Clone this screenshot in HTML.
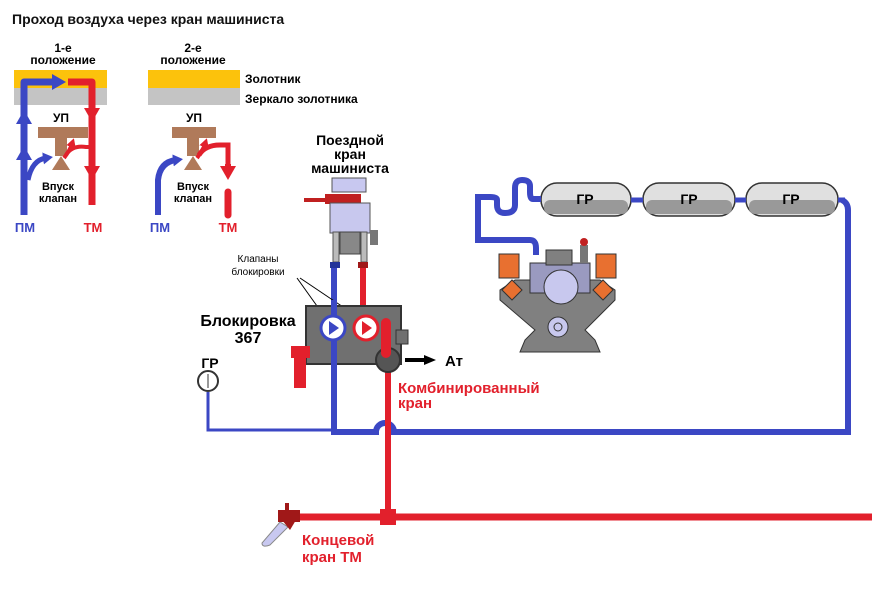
<!DOCTYPE html>
<html><head><meta charset="utf-8"><style>
html,body{margin:0;padding:0;background:#fff;}
svg{display:block;font-family:"Liberation Sans","DejaVu Sans",sans-serif;}
</style></head><body>
<svg width="889" height="599" viewBox="0 0 889 599" xmlns="http://www.w3.org/2000/svg">
<defs>
<marker id="ab" markerWidth="14" markerHeight="16" refX="4" refY="8" orient="auto" markerUnits="userSpaceOnUse"><path d="M0,0 L14,8 L0,16 z" fill="#3b47c4"/></marker>
<marker id="ar" markerWidth="14" markerHeight="16" refX="4" refY="8" orient="auto" markerUnits="userSpaceOnUse"><path d="M0,0 L14,8 L0,16 z" fill="#e2202c"/></marker>
<marker id="ars" markerWidth="9" markerHeight="10" refX="3" refY="5" orient="auto" markerUnits="userSpaceOnUse"><path d="M0,0 L9,5 L0,10 z" fill="#e2202c"/></marker>
<marker id="abs" markerWidth="10" markerHeight="12" refX="3" refY="6" orient="auto" markerUnits="userSpaceOnUse"><path d="M0,0 L10,6 L0,12 z" fill="#3b47c4"/></marker>
<marker id="ak" markerWidth="7" markerHeight="7" refX="6" refY="3.5" orient="auto" markerUnits="userSpaceOnUse"><path d="M0,0 L7,3.5 L0,7 z" fill="#000"/></marker>
<marker id="akb" markerWidth="12" markerHeight="10" refX="4" refY="5" orient="auto" markerUnits="userSpaceOnUse"><path d="M0,0 L12,5 L0,10 z" fill="#000"/></marker>
</defs>
<text x="12" y="24" font-size="14" font-weight="bold" fill="#111">Проход воздуха через кран машиниста</text>

<!-- Position 1 -->
<text x="63" y="52" font-size="12" font-weight="bold" text-anchor="middle">1-е</text>
<text x="63" y="64" font-size="12" font-weight="bold" text-anchor="middle">положение</text>
<rect x="14" y="70" width="93" height="18" fill="#fcc20c"/>
<rect x="14" y="88" width="93" height="17" fill="#c4c4c4"/>
<path d="M24,215 V82 H56" stroke="#3b47c4" stroke-width="7" fill="none" stroke-linejoin="round"/>
<path d="M48,82 H56" stroke="#3b47c4" stroke-width="7" marker-end="url(#ab)"/>
<path d="M68,82 H92 V205" stroke="#e2202c" stroke-width="7" fill="none" stroke-linejoin="round"/>
<path d="M92,106 V112" stroke="#e2202c" stroke-width="7" marker-end="url(#ar)"/>
<path d="M92,164 V170" stroke="#e2202c" stroke-width="7" marker-end="url(#ar)"/>
<path d="M24,126 V120" stroke="#3b47c4" stroke-width="7" marker-end="url(#ab)"/>
<path d="M24,162 V156" stroke="#3b47c4" stroke-width="7" marker-end="url(#ab)"/>
<path d="M28,180 Q32,160 46,158" stroke="#3b47c4" stroke-width="5" fill="none" marker-end="url(#abs)"/>
<text x="61" y="122" font-size="12" font-weight="bold" text-anchor="middle">УП</text>
<rect x="38" y="127" width="50" height="11" fill="#b07a5a"/>
<rect x="55" y="138" width="12" height="18" fill="#b07a5a"/>
<path d="M52,170 L61,156 L70,170 z" fill="#b07a5a"/>
<path d="M64,158 Q70,150 72,144" stroke="#e2202c" stroke-width="4" fill="none" marker-end="url(#ars)"/>
<path d="M66,155 Q72,145 86,147 H90" stroke="#e2202c" stroke-width="4" fill="none"/>
<text x="58" y="190" font-size="11" font-weight="bold" text-anchor="middle">Впуск</text>
<text x="58" y="202" font-size="11" font-weight="bold" text-anchor="middle">клапан</text>
<text x="25" y="232" font-size="13" font-weight="bold" fill="#3b47c4" text-anchor="middle">ПМ</text>
<text x="93" y="232" font-size="13" font-weight="bold" fill="#e2202c" text-anchor="middle">ТМ</text>

<!-- Position 2 -->
<text x="193" y="52" font-size="12" font-weight="bold" text-anchor="middle">2-е</text>
<text x="193" y="64" font-size="12" font-weight="bold" text-anchor="middle">положение</text>
<rect x="148" y="70" width="92" height="18" fill="#fcc20c"/>
<rect x="148" y="88" width="92" height="17" fill="#c4c4c4"/>
<text x="245" y="83" font-size="12" font-weight="bold">Золотник</text>
<text x="245" y="103" font-size="12" font-weight="bold">Зеркало золотника</text>
<text x="194" y="122" font-size="12" font-weight="bold" text-anchor="middle">УП</text>
<rect x="172" y="127" width="44" height="11" fill="#b07a5a"/>
<rect x="187" y="138" width="12" height="18" fill="#b07a5a"/>
<path d="M184,170 L193,156 L202,170 z" fill="#b07a5a"/>
<path d="M158,215 V180 Q160,162 176,160" stroke="#3b47c4" stroke-width="6" fill="none" marker-end="url(#abs)"/>
<path d="M197,158 Q203,150 205,144" stroke="#e2202c" stroke-width="4" fill="none" marker-end="url(#ars)"/>
<path d="M199,155 Q205,145 220,145 H228 V168" stroke="#e2202c" stroke-width="5" fill="none"/>
<path d="M228,164 V170" stroke="#e2202c" stroke-width="6" marker-end="url(#ar)"/>
<path d="M228,192 V215" stroke="#e2202c" stroke-width="7" stroke-linecap="round"/>
<text x="193" y="190" font-size="11" font-weight="bold" text-anchor="middle">Впуск</text>
<text x="193" y="202" font-size="11" font-weight="bold" text-anchor="middle">клапан</text>
<text x="160" y="232" font-size="13" font-weight="bold" fill="#3b47c4" text-anchor="middle">ПМ</text>
<text x="228" y="232" font-size="13" font-weight="bold" fill="#e2202c" text-anchor="middle">ТМ</text>

<!-- Train crane -->
<text x="350" y="145" font-size="14" font-weight="bold" text-anchor="middle">Поездной</text>
<text x="350" y="159" font-size="14" font-weight="bold" text-anchor="middle">кран</text>
<text x="350" y="173" font-size="14" font-weight="bold" text-anchor="middle">машиниста</text>
<rect x="332" y="178" width="34" height="14" fill="#c8c8f0" stroke="#555"/>
<path d="M304,200 H340" stroke="#c02020" stroke-width="4"/>
<rect x="325" y="194" width="36" height="10" fill="#c02020"/>
<rect x="330" y="203" width="40" height="30" fill="#c8c8ee" stroke="#555"/>
<rect x="333" y="232" width="6" height="30" fill="#bbb" stroke="#555"/>
<rect x="361" y="232" width="6" height="30" fill="#bbb" stroke="#555"/>
<rect x="340" y="232" width="20" height="22" fill="#888" stroke="#444"/>
<rect x="370" y="230" width="8" height="15" fill="#777"/>
<rect x="330" y="262" width="10" height="6" fill="#223399"/>
<rect x="358" y="262" width="10" height="6" fill="#a01818"/>

<!-- Pipes -->
<path d="M334,268 V432 H376 A9 9 0 0 1 394 432 H848 V210 Q848,203 842,200" stroke="#3b47c4" stroke-width="6" fill="none"/>
<path d="M363,268 V318" stroke="#e2202c" stroke-width="6"/>
<path d="M208,392 V430 H332" stroke="#3b47c4" stroke-width="3" fill="none"/>
<path d="M388,360 V517" stroke="#e2202c" stroke-width="6"/>
<path d="M290,517 H872" stroke="#e2202c" stroke-width="7"/>
<rect x="380" y="509" width="16" height="16" fill="#e2202c"/>

<!-- Block 367 -->
<text x="258" y="262" font-size="10" text-anchor="middle">Клапаны</text>
<text x="258" y="275" font-size="10" text-anchor="middle">блокировки</text>
<path d="M297,278 L322,313" stroke="#000" stroke-width="1" marker-end="url(#ak)"/>
<path d="M300,278 L352,313" stroke="#000" stroke-width="1" marker-end="url(#ak)"/>
<rect x="306" y="306" width="95" height="58" fill="#707070" stroke="#333" stroke-width="2"/>
<rect x="396" y="330" width="12" height="14" fill="#707070" stroke="#333"/>
<rect x="291" y="346" width="19" height="12" fill="#e2202c"/>
<rect x="294" y="356" width="12" height="32" fill="#e2202c"/>
<path d="M334,300 V432" stroke="#3b47c4" stroke-width="6"/>
<circle cx="333" cy="328" r="12" fill="#fff" stroke="#3b47c4" stroke-width="3"/>
<path d="M329,321 L339,328 L329,335 z" fill="#3b47c4"/>
<circle cx="366" cy="328" r="12" fill="#fff" stroke="#e2202c" stroke-width="3"/>
<path d="M362,321 L372,328 L362,335 z" fill="#e2202c"/>
<circle cx="388" cy="360" r="12" fill="#555" stroke="#333" stroke-width="2"/>
<rect x="381" y="318" width="10" height="40" rx="5" fill="#e2202c"/>
<path d="M405,360 H428" stroke="#000" stroke-width="4" marker-end="url(#akb)"/>
<text x="445" y="366" font-size="15" font-weight="bold">Ат</text>
<text x="248" y="326" font-size="16" font-weight="bold" text-anchor="middle">Блокировка</text>
<text x="248" y="343" font-size="16" font-weight="bold" text-anchor="middle">367</text>
<text x="210" y="368" font-size="14" font-weight="bold" text-anchor="middle">ГР</text>
<circle cx="208" cy="381" r="10" fill="#fff" stroke="#333" stroke-width="2"/>
<path d="M208,374 V388" stroke="#333"/>
<text x="398" y="393" font-size="15" font-weight="bold" fill="#e2202c">Комбинированный</text>
<text x="398" y="408" font-size="15" font-weight="bold" fill="#e2202c">кран</text>

<!-- End valve -->
<path d="M270,545 Q262,548 262,543 L280,522 L288,527 z" fill="#c8c8f0" stroke="#888"/>
<rect x="278" y="510" width="22" height="12" fill="#a01818"/>
<path d="M282,520 L290,530 L296,520 z" fill="#a01818"/>
<rect x="285" y="503" width="4" height="10" fill="#a01818"/>
<text x="302" y="545" font-size="15" font-weight="bold" fill="#e2202c">Концевой</text>
<text x="302" y="562" font-size="15" font-weight="bold" fill="#e2202c">кран ТМ</text>

<!-- Tanks -->
<g stroke="#333" stroke-width="1.5">
<rect x="541" y="183" width="90" height="33" rx="16" fill="#e0e0e0"/>
<rect x="643" y="183" width="92" height="33" rx="16" fill="#e0e0e0"/>
<rect x="746" y="183" width="92" height="33" rx="16" fill="#e0e0e0"/>
</g>
<rect x="544" y="200" width="84" height="14" rx="6" fill="#999"/>
<rect x="646" y="200" width="86" height="14" rx="6" fill="#999"/>
<rect x="749" y="200" width="86" height="14" rx="6" fill="#999"/>
<text x="585" y="204" font-size="14" font-weight="bold" text-anchor="middle">ГР</text>
<text x="689" y="204" font-size="14" font-weight="bold" text-anchor="middle">ГР</text>
<text x="791" y="204" font-size="14" font-weight="bold" text-anchor="middle">ГР</text>
<path d="M631,200 H643 M735,200 H746 M838,200 H845" stroke="#3b47c4" stroke-width="5"/>
<path d="M541,199 H533 Q530,199 530,192 V186 Q530,180 522,180 Q515,180 515,188 V205 Q515,213 505,213 Q497,213 497,205 V200 Q497,197 490,197 H478 V240 H530 Q536,240 536,248 V255" stroke="#3b47c4" stroke-width="6" fill="none"/>

<!-- Compressor -->
<g>
<path d="M515,280 L500,290 L500,300 L535,330 L525,340 L520,352 L600,352 L595,340 L585,330 L615,300 L615,290 L600,280 z" fill="#808080" stroke="#333"/>
<rect x="530" y="263" width="60" height="30" fill="#9a9ac0" stroke="#333"/>
<rect x="546" y="250" width="26" height="15" fill="#808080" stroke="#333"/>
<rect x="580" y="245" width="8" height="18" fill="#777"/>
<circle cx="584" cy="242" r="4" fill="#c02020"/>
<circle cx="561" cy="287" r="17" fill="#c8c8ee" stroke="#333"/>
<circle cx="558" cy="327" r="10" fill="#c8c8ee" stroke="#333"/>
<circle cx="558" cy="327" r="4" fill="none" stroke="#333"/>
<rect x="499" y="254" width="20" height="24" fill="#e87030" stroke="#333"/>
<rect x="596" y="254" width="20" height="24" fill="#e87030" stroke="#333"/>
<path d="M502,290 L512,280 L522,290 L512,300 z M593,290 L603,280 L613,290 L603,300 z" fill="#e87030" stroke="#333"/>
</g>
</svg>
</body></html>
